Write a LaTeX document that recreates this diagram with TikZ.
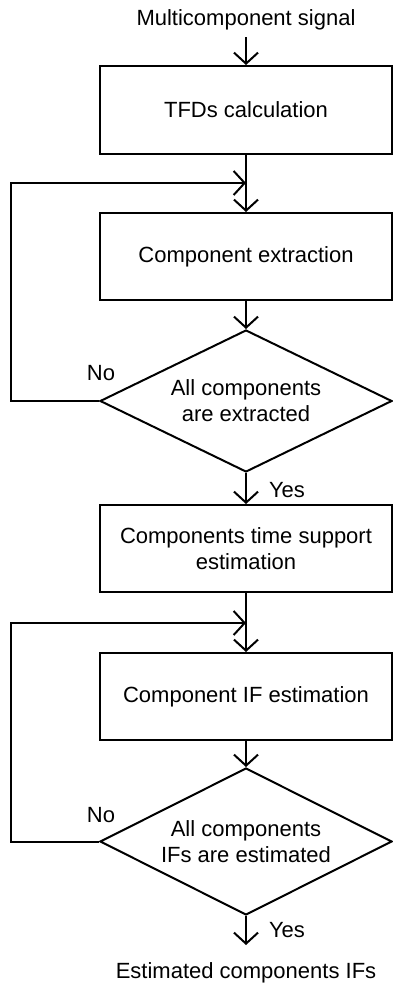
\documentclass[tikz,border=0pt]{standalone}
\usepackage{fontspec}
\setmainfont{Liberation Sans}
\usetikzlibrary{shapes.geometric,arrows.meta}
\begin{document}
\begin{tikzpicture}[x=1pt,y=-1pt,
 font=\fontsize{22}{26}\selectfont,
 procbox/.style={draw,line width=2pt,minimum width=292pt,minimum height=88pt,inner sep=0pt,align=center},
 decbox/.style={draw,diamond,line width=2pt,aspect=2.05,minimum width=292pt,minimum height=142pt,inner sep=0pt,align=center},
 flow/.style={line width=2pt,-{Straight Barb[length=11pt,width=24pt,line width=2pt]}},
 lbl/.style={inner sep=0pt}]
\useasboundingbox (0,0) rectangle (393,987);
\node[lbl] (in) at (246,20) {Multicomponent signal};
\node[procbox] (b1) at (246,110) {TFDs calculation};
\node[procbox, minimum height=87pt] (b2) at (246,256.5) {Component extraction};
\node[decbox] (d1) at (246,401) {All components\\are extracted};
\node[procbox, minimum height=87pt] (b3) at (246,548.5) {Components time support\\estimation};
\node[procbox, minimum height=87pt] (b4) at (246,696.5) {Component IF estimation};
\node[decbox, minimum height=147pt] (d2) at (246,841.5) {All components\\IFs are estimated};
\node[lbl] (out) at (246,973) {Estimated components IFs};
\node[lbl] (no1) at (101,373) {No};
\node[lbl] (yes1) at (287,490) {Yes};
\node[lbl] (no2) at (101,815) {No};
\node[lbl] (yes2) at (287,930) {Yes};
\coordinate (j1) at (246,183);
\coordinate (j2) at (246,623);
\coordinate (e1) at (246,945);
\draw[flow, shorten <=7pt] (in) -- (b1);
\draw[flow] (b1) -- (b2);
\draw[flow] (b2) -- (d1);
\draw[flow] (d1.west) -- ++(-88,0) |- (j1);
\draw[flow] (d1.south) -- (b3.north);
\draw[flow] (b3) -- (b4);
\draw[flow] (b4) -- (d2);
\draw[flow] (d2.west) -- ++(-88,0) |- (j2);
\draw[flow] (d2.south) -- (e1);
\end{tikzpicture}
\end{document}
